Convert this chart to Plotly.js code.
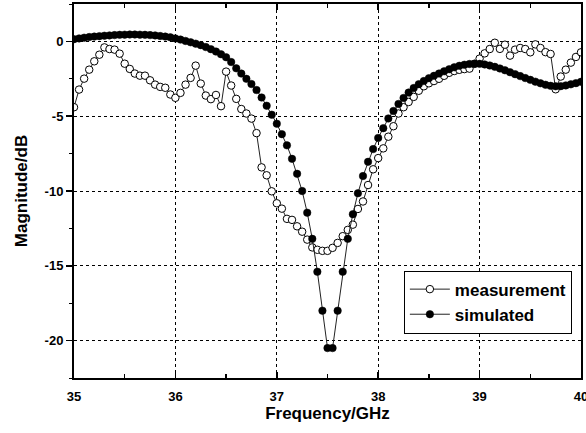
<!DOCTYPE html>
<html>
<head>
<meta charset="utf-8">
<script src="https://cdn.plot.ly/plotly-3.0.1.min.js"></script>
<style>html,body{margin:0;padding:0;background:#fff;}#chart{width:586px;height:433px;}</style>
</head>
<body>
<div id="chart"></div>
<script>
var freq = [35.00,35.05,35.10,35.15,35.20,35.25,35.30,35.35,35.40,35.45,
35.50,35.55,35.60,35.65,35.70,35.75,35.80,35.85,35.90,35.95,
36.00,36.05,36.10,36.15,36.20,36.25,36.30,36.35,36.40,36.45,
36.50,36.55,36.60,36.65,36.70,36.75,36.80,36.85,36.90,36.95,
37.00,37.05,37.10,37.15,37.20,37.25,37.30,37.35,37.40,37.45,
37.50,37.55,37.60,37.65,37.70,37.75,37.80,37.85,37.90,37.95,
38.00,38.05,38.10,38.15,38.20,38.25,38.30,38.35,38.40,38.45,
38.50,38.55,38.60,38.65,38.70,38.75,38.80,38.85,38.90,38.95,
39.00,39.05,39.10,39.15,39.20,39.25,39.30,39.35,39.40,39.45,
39.50,39.55,39.60,39.65,39.70,39.75,39.80,39.85,39.90,39.95,40.00];

var measurement = [-4.4,-3.22,-2.49,-1.89,-1.33,-0.89,-0.4,-0.51,-0.55,-0.82,
-1.49,-1.84,-2.15,-2.29,-2.29,-2.6,-2.89,-3.04,-3.1,-3.55,
-3.77,-3.44,-2.89,-2.44,-1.62,-2.82,-3.62,-3.86,-3.58,-4.33,
-2.02,-2.95,-3.84,-4.52,-4.82,-5.16,-6.13,-8.42,-8.95,-10.02,
-10.82,-11.18,-11.86,-11.93,-12.36,-12.72,-13.25,-13.77,-13.93,-14.0,
-14.0,-13.8,-13.47,-13.02,-12.6,-12.25,-11.2,-10.7,-9.6,-8.55,
-7.8,-7.15,-6.37,-5.67,-4.82,-4.4,-4.05,-3.71,-3.3,-3.0,
-2.8,-2.65,-2.5,-2.3,-2.1,-1.98,-1.9,-1.85,-1.82,-1.5,
-1.15,-0.8,-0.51,-0.09,-0.5,-0.22,-0.95,-0.55,-0.44,-0.51,
-0.73,-0.2,-0.44,-0.72,-0.84,-3.2,-2.35,-1.89,-1.42,-1.04,-0.73];

var simulated = [0.15,0.20,0.25,0.29,0.32,0.35,0.38,0.40,0.42,0.44,
0.45,0.46,0.46,0.45,0.44,0.42,0.40,0.36,0.32,0.27,
0.20,0.12,0.03,-0.06,-0.15,-0.25,-0.38,-0.52,-0.68,-0.86,
-1.06,-1.38,-1.80,-2.15,-2.50,-2.85,-3.25,-3.75,-4.30,-4.90,
-5.50,-6.20,-6.95,-7.85,-8.85,-10.0,-11.45,-13.2,-15.4,-18.0,
-20.5,-20.5,-18.0,-15.4,-13.2,-11.55,-10.15,-9.0,-8.05,-7.2,
-6.45,-5.8,-5.15,-4.65,-4.18,-3.78,-3.42,-3.12,-2.86,-2.65,
-2.46,-2.30,-2.15,-2.0,-1.86,-1.73,-1.63,-1.56,-1.51,-1.49,
-1.50,-1.54,-1.61,-1.70,-1.81,-1.93,-2.06,-2.19,-2.32,-2.45,
-2.57,-2.69,-2.80,-2.90,-2.97,-3.0,-2.99,-2.94,-2.87,-2.79,-2.70];

var xTickVals = [35, 36, 37, 38, 39, 40];
var xTickText = ["35", "36", "37", "38", "39", "40"];
var yTickVals = [0, -5, -10, -15, -20];
var yTickText = ["0", "-5", "-10", "-15", "-20"];
var xMinorVals = [35.5, 36.5, 37.5, 38.5, 39.5];
var yMinorVals = [2.5, -2.5, -7.5, -12.5, -17.5, -22.5];

var FONT = "Liberation Sans, Arial, sans-serif";

var traces = [
  {
    x: freq, y: measurement, name: "measurement", type: "scatter", mode: "lines+markers",
    line: {color: "#222", width: 1},
    marker: {symbol: "circle", size: 7.5, color: "#fff", line: {color: "#000", width: 1}}
  },
  {
    x: freq, y: simulated, name: "simulated", type: "scatter", mode: "lines+markers",
    line: {color: "#222", width: 1},
    marker: {symbol: "circle", size: 7.5, color: "#000", line: {color: "#000", width: 0.5}}
  }
];

var axisCommon = {
  showline: true, linecolor: "#000", linewidth: 2,
  showgrid: true, gridcolor: "#000", gridwidth: 1, griddash: "3px,3px",
  zeroline: false,
  tickfont: {family: FONT, size: 13, color: "#000", weight: "bold"},
  tickcolor: "#000", tickwidth: 1.5, ticklen: 6,
  ticklabeloverflow: "allow"
};

var layout = {
  width: 586, height: 433,
  margin: {l: 74, r: 5, t: 4, b: 55},
  paper_bgcolor: "#fff", plot_bgcolor: "#fff",
  showlegend: true,
  legend: {
    x: 0.982, xanchor: "right", y: 0.203, yanchor: "middle",
    bgcolor: "#fff", bordercolor: "#000", borderwidth: 1,
    font: {family: FONT, size: 17, color: "#000", weight: "bold"},
    tracegroupgap: 0, itemwidth: 40
  },
  xaxis: Object.assign({}, axisCommon, {
    range: [35, 40], tickmode: "array", tickvals: xTickVals, ticktext: xTickText,
    ticks: "inside", mirror: "ticks", ticklabelstandoff: 5,
    minor: {tickmode: "array", tickvals: xMinorVals, ticks: "inside", ticklen: 4, tickcolor: "#000", tickwidth: 1.5, showgrid: false},
    title: {text: "Frequency/GHz", font: {family: FONT, size: 17, color: "#000", weight: "bold"}, standoff: 5}
  }),
  yaxis: Object.assign({}, axisCommon, {
    range: [-22.5, 2.5], tickmode: "array", tickvals: yTickVals, ticktext: yTickText,
    ticks: "outside", mirror: true,
    minor: {tickmode: "array", tickvals: yMinorVals, ticks: "outside", ticklen: 3, tickcolor: "#000", tickwidth: 1, showgrid: false},
    title: {text: "Magnitude/dB", font: {family: FONT, size: 17, color: "#000", weight: "bold"}, standoff: 13}
  })
};

Plotly.newPlot("chart", traces, layout, {displayModeBar: false, staticPlot: true});
</script>
</body>
</html>
